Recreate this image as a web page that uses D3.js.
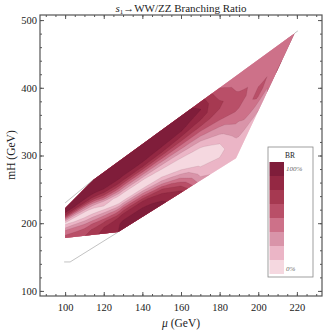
<!DOCTYPE html>
<html lang="en">
<head>
<meta charset="utf-8"/>
<title>s1 to WW/ZZ Branching Ratio</title>
<script src="https://cdn.jsdelivr.net/npm/d3@7"></script>
<style>
  body { margin: 0; background: #fff; }
  text { font-family: "Liberation Serif", "DejaVu Serif", serif; fill: #222; }
  .frame { fill: none; stroke: #555; stroke-width: 1.2px; }
  .axis .domain { display: none; }
  .axis line { stroke: #555; }
  .band { stroke: rgba(70, 20, 35, 0.2); stroke-width: 0.4px; }
  .edge { fill: none; stroke: #999; stroke-width: 0.6px; }
</style>
</head>
<body>
<svg id="chart" width="334" height="333"></svg>
<script>
// edges of the scanned region (mu, mH in GeV)
var upperMu = [100, 114.5, 219],
    upperMh = [222, 264, 481];
var lowerMu = [100, 127.5, 188.5, 219],
    lowerMh = [178, 187, 296, 481];

// thin gray boundary lines outside the region
var lineTopMu = [100, 114.5],         lineTopMh = [230, 264];
var lineLowMu = [99.5, 102.6, 127.5], lineLowMh = [142.8, 142.8, 187];
var lineTipMu = [219, 220.5],         lineTipMh = [481, 484];

// BR: one column per mu, bottom (lower edge) -> top (upper edge)
var muCols = [100, 110, 120, 130, 140, 150, 160, 170, 180, 190, 200, 210, 219];
var tRows = [0, 0.1, 0.2, 0.3, 0.4, 0.5, 0.6, 0.7, 0.8, 0.9, 1];
var br = [
  [0.50, 0.50, 0.45, 0.32, 0.15, 0.10, 0.30, 0.60, 0.85, 0.90, 0.92],
  [0.62, 0.56, 0.45, 0.28, 0.10, 0.12, 0.40, 0.75, 0.92, 0.95, 0.95],
  [0.80, 0.75, 0.60, 0.35, 0.10, 0.15, 0.55, 0.85, 0.95, 0.97, 0.97],
  [0.90, 0.90, 0.80, 0.50, 0.12, 0.10, 0.45, 0.80, 0.95, 0.98, 0.98],
  [0.92, 0.90, 0.80, 0.45, 0.08, 0.12, 0.45, 0.80, 0.95, 0.98, 0.98],
  [0.90, 0.85, 0.65, 0.30, 0.05, 0.15, 0.45, 0.75, 0.92, 0.97, 0.97],
  [0.80, 0.60, 0.35, 0.12, 0.05, 0.20, 0.45, 0.70, 0.88, 0.95, 0.95],
  [0.30, 0.20, 0.10, 0.05, 0.10, 0.25, 0.45, 0.65, 0.80, 0.88, 0.82],
  [0.20, 0.15, 0.08, 0.12, 0.22, 0.35, 0.50, 0.60, 0.66, 0.58, 0.50],
  [0.15, 0.18, 0.25, 0.32, 0.38, 0.45, 0.53, 0.55, 0.48, 0.45, 0.45],
  [0.25, 0.30, 0.40, 0.52, 0.55, 0.48, 0.45, 0.44, 0.44, 0.44, 0.44],
  [0.52, 0.46, 0.45, 0.44, 0.44, 0.44, 0.44, 0.44, 0.44, 0.44, 0.44],
  [0.44, 0.44, 0.44, 0.44, 0.44, 0.44, 0.44, 0.44, 0.44, 0.44, 0.44]
];

var levels = [0, 0.125, 0.25, 0.375, 0.5, 0.625, 0.75, 0.875];
var levelColors = ["#f5d8e0", "#ebb5c6", "#d994a9", "#cd7189", "#b94f68", "#a63951", "#942843", "#7f1d3a"];

var xTicks = [100, 120, 140, 160, 180, 200, 220];
var yTicks = [100, 200, 300, 400, 500];

var svg = d3.select("#chart");

var x = d3.scaleLinear().domain([87, 233]).range([40, 322]);
var y = d3.scaleLinear().domain([92.5, 507.5]).range([296, 15]);

var upper = d3.scaleLinear().domain(upperMu).range(upperMh);
var lower = d3.scaleLinear().domain(lowerMu).range(lowerMh);
var muOfIndex = d3.scaleLinear().domain(d3.range(muCols.length)).range(muCols);
var tOfIndex = d3.scaleLinear().domain(d3.range(tRows.length)).range(tRows);

// grid for d3.contours: row j = tRows[j], column i = muCols[i]
var nx = muCols.length, ny = tRows.length;
var values = new Array(nx * ny);
for (var j = 0; j < ny; j++)
  for (var i = 0; i < nx; i++) values[j * nx + i] = br[i][j];

// grid coords -> screen
function toScreen(p) {
  var mu = muOfIndex(p[0] - 0.5), t = tOfIndex(p[1] - 0.5);
  var lo = lower(mu), hi = upper(mu);
  return [x(mu), y(lo + t * (hi - lo))];
}
function ringPath(ring) {
  var pts = [];
  for (var k = 0; k < ring.length - 1; k++) {
    var a = ring[k], b = ring[k + 1];
    for (var s = 0; s < 5; s++) {
      var f = s / 5;
      pts.push(toScreen([a[0] + (b[0] - a[0]) * f, a[1] + (b[1] - a[1]) * f]));
    }
  }
  return "M" + pts.join("L") + "Z";
}
function multiPath(mp) {
  return mp.coordinates.map(function(poly) { return poly.map(ringPath).join(""); }).join("");
}

// region polygon for clipping
var regionPts = [];
lowerMu.forEach(function(m) { regionPts.push([x(m), y(lower(m))]); });
upperMu.slice().reverse().forEach(function(m) { regionPts.push([x(m), y(upper(m))]); });

svg.append("defs").append("clipPath").attr("id", "region")
  .append("path").attr("d", "M" + regionPts.join("L") + "Z");

var contours = d3.contours().size([nx, ny]).thresholds(levels)(values);

svg.append("g")
  .attr("clip-path", "url(#region)")
  .selectAll("path")
  .data(contours)
  .enter().append("path")
    .attr("class", "band")
    .attr("d", multiPath)
    .attr("fill", function(d, i) { return levelColors[i]; });

// thin boundary lines
var line = d3.line();
[[lineTopMu, lineTopMh], [lineLowMu, lineLowMh], [lineTipMu, lineTipMh]].forEach(function(l) {
  svg.append("path").attr("class", "edge")
    .attr("d", line(l[0].map(function(m, i) { return [x(m), y(l[1][i])]; })));
});

// axes, ticks pointing inward on all four sides
function addAxis(axis, tr, vals, size, labels) {
  var g = svg.append("g").attr("class", "axis").attr("transform", tr)
    .call(axis.tickValues(vals).tickSize(size).tickFormat(labels ? d3.format("d") : ""));
  g.selectAll("text").attr("font-size", "10.5px").style("font-family", "Liberation Serif");
  return g;
}
var xMinor = d3.range(90, 233, 5), yMinor = d3.range(100, 507, 20);
addAxis(d3.axisBottom(x), "translate(0,296)", xMinor, -2, false);
addAxis(d3.axisBottom(x), "translate(0,296)", xTicks, -4, true).selectAll("text").attr("dy", "1.15em");
addAxis(d3.axisTop(x), "translate(0,15)", xMinor, -2, false);
addAxis(d3.axisTop(x), "translate(0,15)", xTicks, -4, false);
addAxis(d3.axisLeft(y), "translate(40,0)", yMinor, -2, false);
addAxis(d3.axisLeft(y), "translate(40,0)", yTicks, -4, true).selectAll("text").attr("x", -3);
addAxis(d3.axisRight(y), "translate(322,0)", yMinor, -2, false);
addAxis(d3.axisRight(y), "translate(322,0)", yTicks, -4, false);

svg.append("rect").attr("class", "frame")
  .attr("x", 40).attr("y", 15).attr("width", 282).attr("height", 281);

// title and axis labels
var title = svg.append("text").attr("x", 181).attr("y", 12)
  .attr("text-anchor", "middle").attr("font-size", "11px");
title.append("tspan").attr("font-style", "italic").text("s");
title.append("tspan").attr("font-size", "7px").attr("dy", 2).text("1");
title.append("tspan").attr("dy", -2).text("\u2192WW/ZZ Branching Ratio");

var xl = svg.append("text").attr("x", 181).attr("y", 327)
  .attr("text-anchor", "middle").attr("font-size", "11.5px");
xl.append("tspan").attr("font-style", "italic").text("\u03bc");
xl.append("tspan").text(" (GeV)");

svg.append("text").attr("transform", "translate(15,155) rotate(-90)")
  .attr("text-anchor", "middle").attr("font-size", "11.5px").text("mH (GeV)");

// legend
var lg = svg.append("g");
lg.append("rect").attr("x", 268).attr("y", 147).attr("width", 45).attr("height", 130)
  .attr("fill", "#fff").attr("stroke", "#888").attr("stroke-width", 0.8);
lg.append("text").attr("x", 290).attr("y", 158).attr("text-anchor", "middle")
  .attr("font-size", "7.5px").text("BR");
var sw = d3.scaleBand().domain(d3.range(levels.length)).range([162, 274]);
lg.selectAll(".sw").data(levelColors.slice().reverse()).enter().append("rect")
  .attr("x", 269.5).attr("width", 14.5)
  .attr("y", function(d, i) { return sw(i); })
  .attr("height", sw.bandwidth())
  .attr("fill", function(d) { return d; });
lg.append("text").attr("x", 286).attr("y", 171).attr("font-size", "7px")
  .attr("font-style", "italic").style("fill", "#666").text("100%");
lg.append("text").attr("x", 286).attr("y", 271).attr("font-size", "7px")
  .attr("font-style", "italic").style("fill", "#666").text("0%");
</script>
</body>
</html>
